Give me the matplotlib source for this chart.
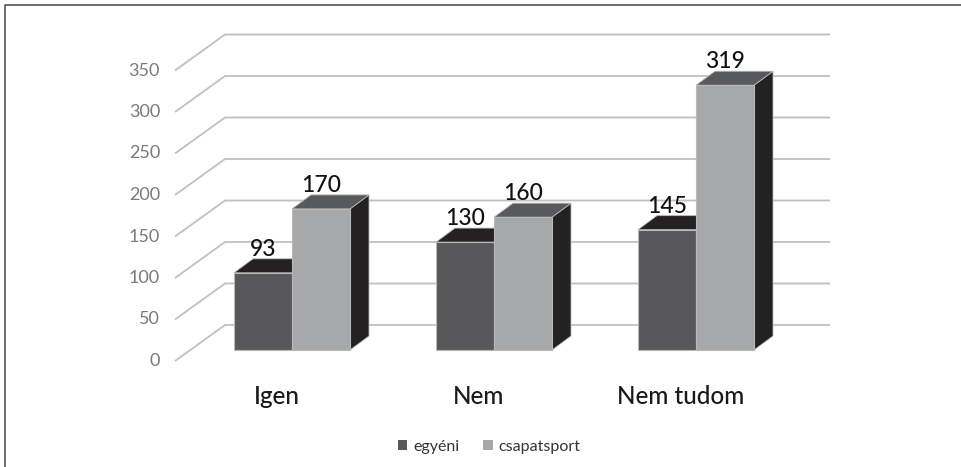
import matplotlib
matplotlib.use("Agg")
import matplotlib.pyplot as plt
from matplotlib.patches import Polygon, Patch
from matplotlib.lines import Line2D
import numpy as np

# ---------------- data ----------------
categories = ["Igen", "Nem", "Nem tudom"]
series_names = ["egyéni", "csapatsport"]
egyeni = [93, 130, 145]
csapatsport = [170, 160, 319]
y_ticks = [0, 50, 100, 150, 200, 250, 300, 350]

# ---------------- layout / style ----------------
W, H, DPI = 962, 467, 100
plt.rcParams['font.family'] = ['Lato', 'DejaVu Sans']

fig = plt.figure(figsize=(W / DPI, H / DPI), dpi=DPI)
ax = fig.add_axes([0, 0, 1, 1])
ax.axis('off')

PX_PER_CAT = 202.0   # pixels per category step
PX_PER_VAL = 0.83    # pixels per value unit
X0_PX = 292.0        # pixel x of first group centre
Y0_PX = 350.0        # pixel y of value 0 on bar front
ax.set_xlim(-X0_PX / PX_PER_CAT, (W - X0_PX) / PX_PER_CAT)
ax.set_ylim((Y0_PX - H) / PX_PER_VAL, Y0_PX / PX_PER_VAL)

def px_x(p):
    return p / PX_PER_CAT

def px_y(p):
    return p / PX_PER_VAL

bw = px_x(58)            # bar width
ddx, ddy = px_x(19), px_y(14)   # bar depth
wall_front_x = px_x(-117)
wall_back_x = px_x(-67)
wall_right_x = px_x(538)
wall_front_dy = px_y(-11)
wall_back_dy = px_y(25)

grid_color = '#c0c0c0'
tick_color = '#7a7a7a'

# back wall gridlines + oblique floor lines
for v in y_ticks:
    ax.plot([wall_front_x, wall_back_x, wall_right_x],
            [v + wall_front_dy, v + wall_back_dy, v + wall_back_dy],
            color=grid_color, lw=1.3, zorder=1, solid_joinstyle='miter',
            solid_capstyle='butt')
    ax.text(px_x(-132), v + wall_front_dy, str(v), ha='right', va='center',
            fontsize=13, color=tick_color)

x = np.arange(len(categories))
series = [
    (egyeni, -bw, '#58585a', '#232122', '#232122', 3),
    (csapatsport, 0.0, '#a7a8aa', '#58595b', '#232122', 6),
]
edge = '#b8b8b8'
for vals, off, c_front, c_top, c_side, z in series:
    lefts = x + off
    ax.bar(lefts, vals, width=bw, align='edge', color=c_front,
           edgecolor=edge, linewidth=0.8, zorder=z + 2)
    for l, v in zip(lefts, vals):
        top = Polygon([(l, v), (l + bw, v), (l + bw + ddx, v + ddy), (l + ddx, v + ddy)],
                      closed=True, facecolor=c_top, edgecolor=edge, lw=0.6, zorder=z + 1)
        side = Polygon([(l + bw, 0), (l + bw + ddx, ddy), (l + bw + ddx, v + ddy), (l + bw, v)],
                       closed=True, facecolor=c_side, edgecolor=edge, lw=0.6, zorder=z)
        ax.add_patch(side)
        ax.add_patch(top)
        ax.text(l + bw / 2, v + ddy + px_y(3), str(v), ha='center', va='baseline',
                fontsize=16.5, color='#111111', fontweight='medium', zorder=20)

# category labels
for xi, cat in zip(x, categories):
    ax.text(xi - px_x(15), px_y(-54), cat, ha='center', va='baseline',
            fontsize=17.5, color='#1a1a1a', fontweight='medium')

# legend
handles = [Patch(facecolor='#58585a', edgecolor='none'),
           Patch(facecolor='#a7a8aa', edgecolor='none')]
fig.legend(handles, series_names, loc='center', bbox_to_anchor=(489 / W, 1 - 447 / H),
           ncol=2, frameon=False, fontsize=11.5, handlelength=0.6, handleheight=0.6,
           handletextpad=0.35, columnspacing=1.5, labelcolor='#333333')

# outer frame (top and left edges visible)
fig.add_artist(Line2D([5 / W, 5 / W, 1.0], [0.0, 1 - 5 / H, 1 - 5 / H],
                      transform=fig.transFigure, color='#555555', lw=1.2))

fig.savefig('out.png', dpi=DPI)
